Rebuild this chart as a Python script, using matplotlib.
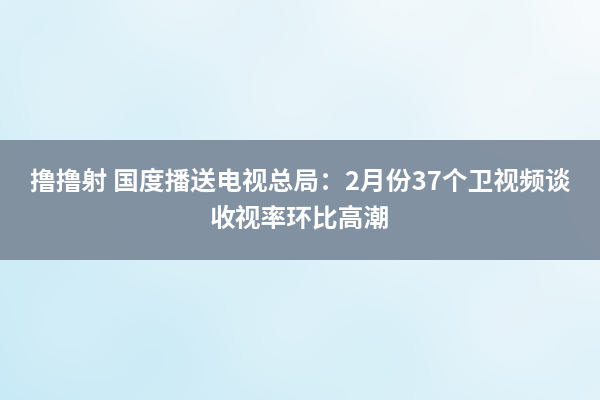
import numpy as np
import matplotlib
matplotlib.use('Agg')
import matplotlib.pyplot as plt

plt.rcParams['font.family'] = ['Noto Sans CJK SC', 'DejaVu Sans']

title_lines = ['撸撸射 国度播送电视总局：2月份37个卫视频谈', '收视率环比高潮']

fig = plt.figure(figsize=(6, 4), dpi=100)
ax = fig.add_axes([0, 0, 1, 1])
ax.set_xlim(0, 600)
ax.set_ylim(400, 0)
ax.axis('off')

# pale sky background: cyan on the left/bottom, whiter towards the top right
xx, yy = np.meshgrid(np.linspace(0, 1, 300), np.linspace(0, 1, 200))
t = np.clip(0.55 * (1 - xx) + 0.45 * yy, 0, 1)
t = t + 0.08 * np.sin(xx * 17) * np.cos(yy * 11)
t = np.clip(t, 0, 1)
white = np.array([247, 250, 252]) / 255
cyan = np.array([200, 234, 246]) / 255
bg = white[None, None, :] * (1 - t[..., None]) + cyan[None, None, :] * t[..., None]
ax.imshow(bg, extent=(0, 600, 400, 0), aspect='auto', interpolation='bicubic')

# gray band
ax.add_patch(plt.Rectangle((0, 140), 600, 120, color=(0.49, 0.55, 0.61), alpha=0.95, lw=0))

ax.text(300, 182, title_lines[0], color='white', fontsize=18.5, fontweight='bold',
        ha='center', va='center')
ax.text(300, 219, title_lines[1], color='white', fontsize=18.5, fontweight='bold',
        ha='center', va='center')

fig.savefig('out.png', dpi=100)
